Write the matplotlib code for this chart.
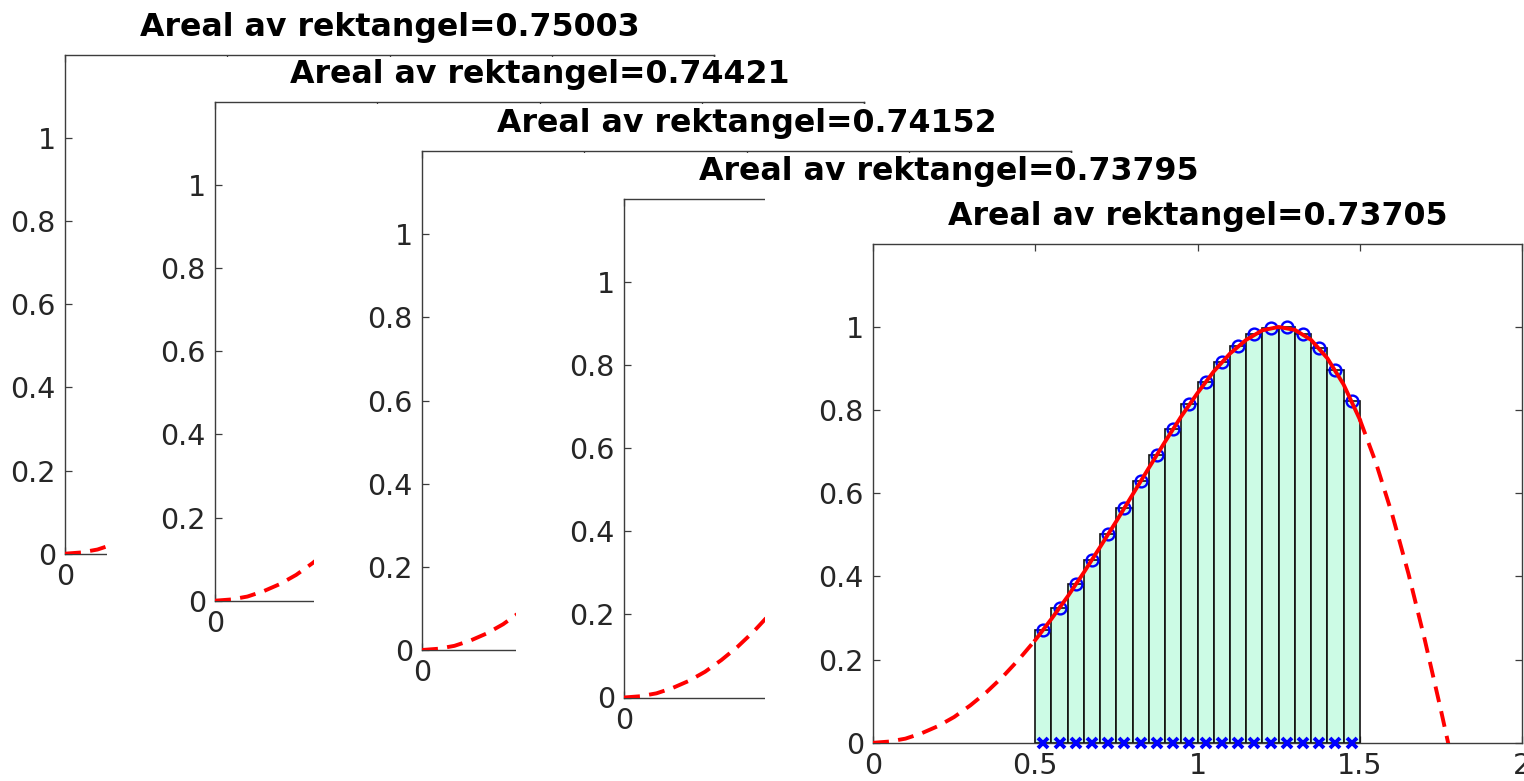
import matplotlib
matplotlib.use("Agg")
import matplotlib.pyplot as plt
import numpy as np
from matplotlib.patches import Rectangle

# curve samples (f on [0, 1.8])
curve_x = [0.00, 0.05, 0.10, 0.15, 0.20, 0.25, 0.30, 0.35, 0.40, 0.45,
           0.50, 0.55, 0.60, 0.65, 0.70, 0.75, 0.80, 0.85, 0.90, 0.95,
           1.00, 1.05, 1.10, 1.15, 1.20, 1.25, 1.30, 1.35, 1.40, 1.45,
           1.50, 1.55, 1.60, 1.65, 1.70, 1.75, 1.80]
curve_y = [0.000, 0.003, 0.010, 0.023, 0.040, 0.062, 0.090, 0.122, 0.159, 0.201,
           0.247, 0.298, 0.352, 0.410, 0.471, 0.533, 0.597, 0.661, 0.724, 0.785,
           0.841, 0.893, 0.936, 0.969, 0.992, 1.000, 0.993, 0.969, 0.925, 0.862,
           0.778, 0.673, 0.549, 0.407, 0.249, 0.079, -0.098]

# midpoints and heights of the rectangles in the front panel
mid_x = [0.525, 0.575, 0.625, 0.675, 0.725, 0.775, 0.825, 0.875, 0.925, 0.975,
         1.025, 1.075, 1.125, 1.175, 1.225, 1.275, 1.325, 1.375, 1.425, 1.475]
mid_y = [0.272, 0.325, 0.381, 0.440, 0.502, 0.565, 0.629, 0.693, 0.755, 0.814,
         0.868, 0.915, 0.954, 0.982, 0.998, 0.999, 0.983, 0.950, 0.896, 0.823]
rect_width = 0.05
interval = (0.5, 1.5)

areas = ["0.75003", "0.74421", "0.74152", "0.73795", "0.73705"]

x_ticks = [0, 0.5, 1, 1.5, 2]
x_labels = ["0", "0.5", "1", "1.5", "2"]
y_ticks = [0, 0.2, 0.4, 0.6, 0.8, 1]
y_labels = ["0", "0.2", "0.4", "0.6", "0.8", "1"]

# panel placement in pixels (left, top) of a 1524x781 canvas
W, H = 1524, 781
panel_left = [65, 215, 422, 624, 873]
panel_top = [54.7, 101.7, 151, 198.5, 243.8]
# top edge of the white backdrop each newer panel puts over the older ones
backdrop_top = [None, 56.5, 103.5, 152.8, 197]
panel_w = 649
panel_h = 499

plt.rcParams["font.family"] = "DejaVu Sans"
fig = plt.figure(figsize=(W / 100, H / 100), dpi=100)

cx = np.array(curve_x)
cy = np.array(curve_y)
inside = (cx >= interval[0]) & (cx <= interval[1])
left_part = cx <= interval[0]
right_part = cx >= interval[1]

red_lw = 2.8
dash = (0, (4.1, 2.4))
spine_col = "#3c3c3c"
txt_col = "#262626"

for i, area in enumerate(areas):
    l, t = panel_left[i], panel_top[i]
    if i > 0:
        x0 = (l - 108) / W
        y_top = 1 - backdrop_top[i] / H
        fig.add_artist(Rectangle((x0, 0), 1 - x0, y_top, transform=fig.transFigure,
                                 facecolor="white", edgecolor="none", zorder=2 * i))
    ax = fig.add_axes([l / W, 1 - (t + panel_h) / H, panel_w / W, panel_h / H])
    ax.set_zorder(2 * i + 1)

    if i == len(areas) - 1:
        ax.bar(mid_x, mid_y, width=rect_width, color="#ccfbe5", edgecolor="#111111",
               linewidth=1.2, zorder=2)
        ax.plot(mid_x, mid_y, "o", color="blue", mfc="none", ms=8.5, mew=1.7, zorder=3)
        ax.plot(mid_x, np.zeros(len(mid_x)), "x", color="blue", ms=7, mew=2.8,
                clip_on=False, zorder=5)
        ax.plot(cx[inside], cy[inside], "-", color="red", lw=red_lw, zorder=4)
    ax.plot(cx[left_part], cy[left_part], color="red", lw=red_lw, ls=dash, zorder=4)
    ax.plot(cx[right_part], cy[right_part], color="red", lw=red_lw, ls=dash, zorder=4)

    ax.set_xlim(0, 2)
    ax.set_ylim(0, 1.2)
    ax.set_xticks(x_ticks)
    ax.set_xticklabels(x_labels)
    ax.set_yticks(y_ticks)
    ax.set_yticklabels(y_labels)
    ax.tick_params(direction="in", top=True, right=True, length=5, width=0.9,
                   color=spine_col, labelsize=20.5, labelcolor=txt_col, pad=6.5)
    for s in ax.spines.values():
        s.set_color(spine_col)
        s.set_linewidth(1.0)
    ax.set_title(f"Areal av rektangel={area}", fontsize=22.8, fontweight="bold",
                 pad=13.5)

fig.savefig("out.png", dpi=100)
